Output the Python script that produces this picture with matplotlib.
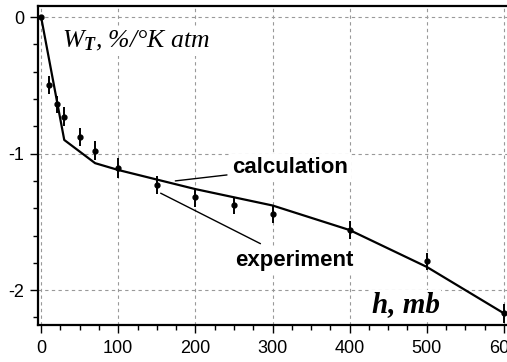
import numpy as np
import matplotlib
matplotlib.use("Agg")
import matplotlib.pyplot as plt
from matplotlib.ticker import MultipleLocator

# calculation curve (piecewise)
calc_h = [0, 30, 70, 100, 200, 300, 400, 500, 600]
calc_w = [0, -0.90, -1.07, -1.12, -1.26, -1.38, -1.56, -1.83, -2.17]

# experiment points with error bars
exp_h = [0, 10, 20, 30, 50, 70, 100, 150, 200, 250, 300, 400, 500, 600]
exp_w = [0, -0.50, -0.64, -0.73, -0.88, -0.98, -1.105, -1.23, -1.32, -1.38, -1.44, -1.56, -1.79, -2.17]
exp_err = [0, 0.065, 0.06, 0.07, 0.065, 0.07, 0.075, 0.065, 0.07, 0.065, 0.065, 0.065, 0.06, 0.07]

plt.rcParams['font.family'] = ['Liberation Sans', 'DejaVu Sans']
plt.rcParams['axes.unicode_minus'] = False
plt.rcParams['mathtext.fontset'] = 'custom'
plt.rcParams['mathtext.rm'] = 'Liberation Serif:italic'
plt.rcParams['mathtext.it'] = 'Liberation Serif:italic'
plt.rcParams['mathtext.bf'] = 'Liberation Serif:italic:bold'

fig = plt.figure(figsize=(5.07, 3.62), dpi=100)
ax = fig.add_axes([0.075, 0.102, 0.925, 0.881])

ax.plot(calc_h, calc_w, color='black', lw=1.6, zorder=3)
ax.errorbar(exp_h, exp_w, yerr=exp_err, fmt='o', color='black', ms=3.5,
            elinewidth=1.4, capsize=0, zorder=4)

ax.set_xlim(-4, 604)
ax.set_ylim(-2.256, 0.08)
ax.xaxis.set_major_locator(MultipleLocator(100))
ax.xaxis.set_minor_locator(MultipleLocator(25))
ax.yaxis.set_major_locator(MultipleLocator(1))
ax.yaxis.set_minor_locator(MultipleLocator(0.2))
ax.grid(True, which='major', color='#999999', linestyle=(0, (3, 3)), lw=0.8)
ax.set_axisbelow(True)

for s in ['left', 'bottom', 'top']:
    ax.spines[s].set_linewidth(1.6)
ax.spines['right'].set_visible(False)
ax.tick_params(which='major', direction='out', length=6, width=1, labelsize=13, pad=4)
ax.tick_params(which='minor', direction='out', length=3.5, width=1)
ax.tick_params(axis='x', pad=5)

ax.text(27, -0.22, r'$W_{\mathbf{T}}$, %/°K atm', family='Liberation Serif',
        style='italic', fontsize=18.5, va='baseline',
        bbox=dict(facecolor='white', edgecolor='none', pad=2))
ax.text(429, -2.161, 'h, mb', family='Liberation Serif', style='italic',
        weight='bold', fontsize=21, va='baseline',
        bbox=dict(facecolor='white', edgecolor='none', pad=1))

ax.annotate('calculation', xy=(174, -1.20), xytext=(248, -1.143),
            fontsize=16, weight='bold', va='baseline',
            bbox=dict(facecolor='white', edgecolor='none', pad=2),
            arrowprops=dict(arrowstyle='-', color='black', lw=1, shrinkA=2, shrinkB=0))
ax.annotate('experiment', xy=(155, -1.29), xytext=(251, -1.824),
            fontsize=16, weight='bold', va='baseline',
            bbox=dict(facecolor='white', edgecolor='none', pad=2),
            arrowprops=dict(arrowstyle='-', color='black', lw=1, shrinkA=6, shrinkB=0))

plt.savefig("out.png", dpi=100)
